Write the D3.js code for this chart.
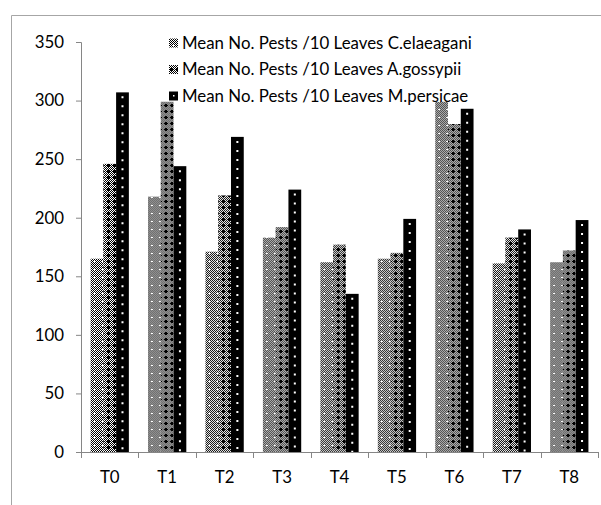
<!DOCTYPE html>
<html>
<head>
<meta charset="utf-8">
<script src="https://cdn.jsdelivr.net/npm/d3@7"></script>
<style>
  html, body { margin: 0; padding: 0; background: #fff; }
  svg { display: block; }
  text { font-family: Lato, "Open Sans", sans-serif; fill: #000; }
</style>
</head>
<body>
<div id="chart"></div>
<script>
// ---- data ----
const categories = ["T0", "T1", "T2", "T3", "T4", "T5", "T6", "T7", "T8"];
const seriesNames = [
  "Mean No. Pests /10 Leaves C.elaeagani",
  "Mean No. Pests /10 Leaves A.gossypii",
  "Mean No. Pests /10 Leaves M.persicae"
];
const cElaeagani = [165, 218, 171, 183, 162, 165, 299, 161, 162];
const aGossypii  = [246, 299, 219, 192, 177, 170, 280, 183, 172];
const mPersicae  = [307, 244, 269, 224, 135, 199, 293, 190, 198];
const yTicks = [0, 50, 100, 150, 200, 250, 300, 350];

const seriesValues = [cElaeagani, aGossypii, mPersicae];

// ---- layout ----
const W = 601, H = 505;
const svg = d3.select("#chart").append("svg").attr("width", W).attr("height", H);
const defs = svg.append("defs");

// pattern builder (1px checker with holes / crosses)
function buildPattern(id, size, isBlack) {
  const p = defs.append("pattern").attr("id", id)
    .attr("patternUnits", "userSpaceOnUse")
    .attr("width", size).attr("height", size)
    .attr("shape-rendering", "crispEdges");
  p.append("rect").attr("width", size).attr("height", size).attr("fill", "#fff");
  for (let i = 0; i < size; i++) {
    for (let j = 0; j < size; j++) {
      if (isBlack(i, j)) p.append("rect").attr("x", i).attr("y", j).attr("width", 1).attr("height", 1).attr("fill", "#000");
    }
  }
}
// C.elaeagani: checker with white plus-shaped holes
buildPattern("patC", 8, (i, j) => {
  const hole = (i === 5 && j >= 4 && j <= 6) || (j === 5 && i >= 4 && i <= 6);
  return (i + j) % 2 === 0 && !hole;
});
// A.gossypii: checker with black crosses
buildPattern("patA", 6, (i, j) => {
  const cross = (i === 3 && j >= 2 && j <= 4) || (j === 3 && i >= 2 && i <= 4);
  return (i + j) % 2 === 0 || cross;
});

const fills = ["url(#patC)", "url(#patA)", "#000"];

// measure font size so legend text width matches the reference
const probe = svg.append("text").attr("font-size", 100).text(seriesNames[0]);
const probeLen = probe.node().getComputedTextLength();
probe.remove();
const fontSize = Math.min(18, 290 / probeLen * 100);

// frame
svg.append("path")
  .attr("d", "M11.5,505 V15.5 H601")
  .attr("fill", "none").attr("stroke", "#a6a6a6").attr("stroke-width", 1);

const x0 = d3.scaleBand().domain(categories).range([81, 598]).paddingInner(0).paddingOuter(0);
const x1 = d3.scaleBand().domain([0, 1, 2]).range([0, x0.bandwidth()]).paddingInner(0).paddingOuter(0.75);
const y = d3.scaleLinear().domain([0, 350]).range([452, 42]);

// bars
const groups = svg.append("g").selectAll("g").data(categories).join("g")
  .attr("transform", d => `translate(${x0(d)},0)`);

groups.each(function(cat, ci) {
  const g = d3.select(this);
  seriesValues.forEach((vals, si) => {
    const v = vals[ci];
    g.append("rect")
      .attr("x", x1(si)).attr("y", y(v))
      .attr("width", x1.bandwidth()).attr("height", y(0) - y(v))
      .attr("fill", fills[si]);
    if (si === 2) {
      g.append("line")
        .attr("x1", x1(si) + x1.bandwidth() / 2).attr("x2", x1(si) + x1.bandwidth() / 2)
        .attr("y1", y(v) + 4).attr("y2", y(0))
        .attr("stroke", "#fff").attr("stroke-width", 2)
        .attr("stroke-dasharray", "2,7");
    }
  });
});

// y axis
const yAxis = svg.append("g").attr("transform", "translate(81,0)")
  .call(d3.axisLeft(y).tickValues(yTicks).tickSize(5).tickPadding(12).tickFormat(d3.format("d")));
yAxis.select(".domain").attr("stroke", "#868686");
yAxis.selectAll(".tick line").attr("stroke", "#868686");
yAxis.selectAll("text").attr("font-size", fontSize).attr("font-family", "Lato, sans-serif");

// x axis
const xAxis = svg.append("g").attr("transform", `translate(0,${y(0)})`)
  .call(d3.axisBottom(x0).tickSize(0).tickPadding(0));
xAxis.select(".domain").attr("stroke", "#868686").attr("d", `M81,0.5H598`);
xAxis.selectAll("text").attr("y", 25).attr("dy", "0.35em")
  .attr("font-size", fontSize).attr("font-family", "Lato, sans-serif");
// boundary ticks
const bounds = d3.range(categories.length + 1).map(i => x0.range()[0] + i * x0.step());
xAxis.selectAll(".btick").data(bounds).join("line").attr("class", "btick")
  .attr("x1", d => Math.round(d) + 0.5).attr("x2", d => Math.round(d) + 0.5)
  .attr("y1", 0).attr("y2", 6).attr("stroke", "#868686");

// legend
const legendRows = [43, 69.5, 96];
const legend = svg.append("g");
seriesNames.forEach((name, i) => {
  const ly = legendRows[i];
  legend.append("rect").attr("x", 169).attr("y", ly - 4.5).attr("width", 9).attr("height", 9)
    .attr("fill", fills[i]);
  if (i === 2) {
    legend.append("rect").attr("x", 173).attr("y", ly - 1).attr("width", 1.5).attr("height", 1.5).attr("fill", "#fff");
  }
  legend.append("text").attr("x", 182).attr("y", ly).attr("dy", "0.35em")
    .attr("font-size", fontSize).text(name);
});
</script>
</body>
</html>
